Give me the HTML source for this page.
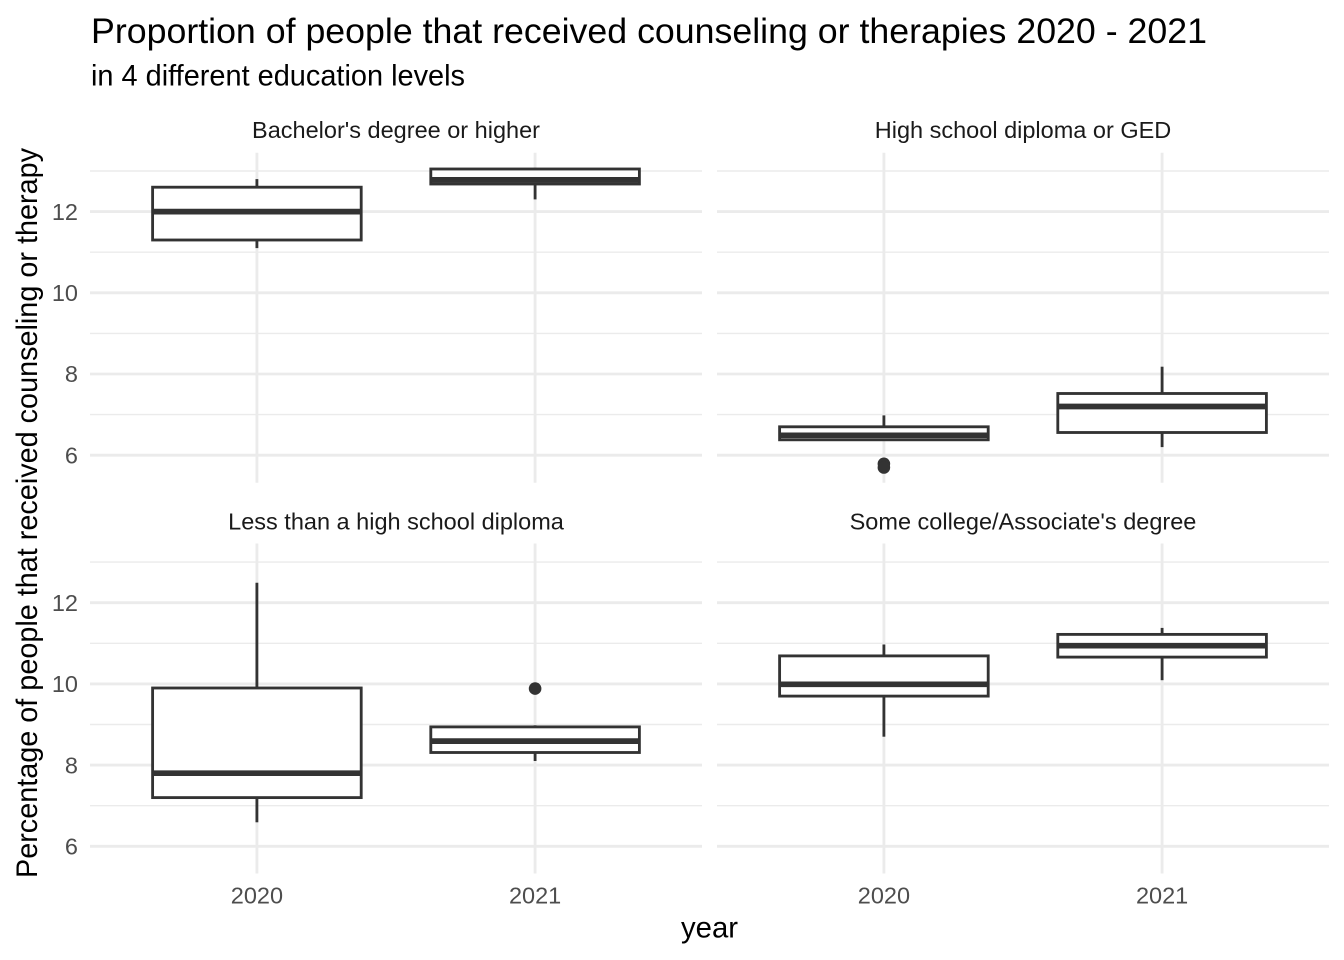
<!DOCTYPE html>
<html>
<head>
<meta charset="utf-8">
<style>
  html, body { margin: 0; padding: 0; background: #ffffff; }
  svg { display: block; }
  text { font-family: "Liberation Sans", Arial, sans-serif; }
</style>
</head>
<body>
<svg width="1344" height="960" viewBox="0 0 1344 960" xmlns="http://www.w3.org/2000/svg">
  <rect x="0" y="0" width="1344" height="960" fill="#ffffff"/>

  <!-- Titles -->
  <text x="91" y="43" font-size="35.6" fill="#000000" textLength="1116" lengthAdjust="spacingAndGlyphs">Proportion of people that received counseling or therapies 2020 - 2021</text>
  <text x="91" y="85.5" font-size="29.3" fill="#000000" textLength="374" lengthAdjust="spacingAndGlyphs">in 4 different education levels</text>

  <!-- Strip labels -->
  <text x="396" y="138.2" font-size="23.5" fill="#1A1A1A" text-anchor="middle">Bachelor's degree or higher</text>
  <text x="1023" y="138.2" font-size="23.5" fill="#1A1A1A" text-anchor="middle">High school diploma or GED</text>
  <text x="396" y="529.3" font-size="23.5" fill="#1A1A1A" text-anchor="middle">Less than a high school diploma</text>
  <text x="1023" y="529.3" font-size="23.5" fill="#1A1A1A" text-anchor="middle">Some college/Associate's degree</text>

  <!-- Grid lines -->
  <g stroke="#EBEBEB" fill="none">
    <g stroke-width="1.42">
      <line x1="90" x2="702" y1="414.6" y2="414.6"/>
      <line x1="90" x2="702" y1="333.4" y2="333.4"/>
      <line x1="90" x2="702" y1="252.2" y2="252.2"/>
      <line x1="90" x2="702" y1="171.0" y2="171.0"/>
      <line x1="717" x2="1329" y1="414.6" y2="414.6"/>
      <line x1="717" x2="1329" y1="333.4" y2="333.4"/>
      <line x1="717" x2="1329" y1="252.2" y2="252.2"/>
      <line x1="717" x2="1329" y1="171.0" y2="171.0"/>
      <line x1="90" x2="702" y1="805.7" y2="805.7"/>
      <line x1="90" x2="702" y1="724.5" y2="724.5"/>
      <line x1="90" x2="702" y1="643.3" y2="643.3"/>
      <line x1="90" x2="702" y1="562.1" y2="562.1"/>
      <line x1="717" x2="1329" y1="805.7" y2="805.7"/>
      <line x1="717" x2="1329" y1="724.5" y2="724.5"/>
      <line x1="717" x2="1329" y1="643.3" y2="643.3"/>
      <line x1="717" x2="1329" y1="562.1" y2="562.1"/>
    </g>
    <g stroke-width="2.84">
      <line x1="90" x2="702" y1="455.2" y2="455.2"/>
      <line x1="90" x2="702" y1="374.0" y2="374.0"/>
      <line x1="90" x2="702" y1="292.8" y2="292.8"/>
      <line x1="90" x2="702" y1="211.6" y2="211.6"/>
      <line x1="717" x2="1329" y1="455.2" y2="455.2"/>
      <line x1="717" x2="1329" y1="374.0" y2="374.0"/>
      <line x1="717" x2="1329" y1="292.8" y2="292.8"/>
      <line x1="717" x2="1329" y1="211.6" y2="211.6"/>
      <line x1="90" x2="702" y1="846.3" y2="846.3"/>
      <line x1="90" x2="702" y1="765.1" y2="765.1"/>
      <line x1="90" x2="702" y1="683.9" y2="683.9"/>
      <line x1="90" x2="702" y1="602.7" y2="602.7"/>
      <line x1="717" x2="1329" y1="846.3" y2="846.3"/>
      <line x1="717" x2="1329" y1="765.1" y2="765.1"/>
      <line x1="717" x2="1329" y1="683.9" y2="683.9"/>
      <line x1="717" x2="1329" y1="602.7" y2="602.7"/>
      <line x1="256.9" x2="256.9" y1="152.7" y2="482.7"/>
      <line x1="535.1" x2="535.1" y1="152.7" y2="482.7"/>
      <line x1="883.9" x2="883.9" y1="152.7" y2="482.7"/>
      <line x1="1162.1" x2="1162.1" y1="152.7" y2="482.7"/>
      <line x1="256.9" x2="256.9" y1="543.5" y2="873.5"/>
      <line x1="535.1" x2="535.1" y1="543.5" y2="873.5"/>
      <line x1="883.9" x2="883.9" y1="543.5" y2="873.5"/>
      <line x1="1162.1" x2="1162.1" y1="543.5" y2="873.5"/>
    </g>
  </g>

  <!-- Boxplots -->
  <g stroke="#333333" stroke-width="2.84" fill="#ffffff">
    <!-- TL 2020 -->
    <line x1="256.9" x2="256.9" y1="187.2" y2="179.1"/>
    <line x1="256.9" x2="256.9" y1="240.0" y2="248.1"/>
    <rect x="152.6" y="187.2" width="208.6" height="52.8"/>
    <line x1="152.6" x2="361.2" y1="211.6" y2="211.6" stroke-width="5.69"/>
    <!-- TL 2021 -->
    <line x1="535.1" x2="535.1" y1="169.0" y2="167.8"/>
    <line x1="535.1" x2="535.1" y1="184.0" y2="199.4"/>
    <rect x="430.8" y="169.0" width="208.6" height="15.0"/>
    <line x1="430.8" x2="639.4" y1="179.9" y2="179.9" stroke-width="5.69"/>

    <!-- TR 2020 -->
    <line x1="883.9" x2="883.9" y1="426.8" y2="415.4"/>
    <rect x="779.6" y="426.8" width="208.6" height="13.0"/>
    <line x1="779.6" x2="988.2" y1="435.3" y2="435.3" stroke-width="5.69"/>
    <circle cx="883.9" cy="463.8" r="6.3" fill="#333333" stroke="none"/>
    <circle cx="883.9" cy="467.5" r="6.3" fill="#333333" stroke="none"/>
    <!-- TR 2021 -->
    <line x1="1162.1" x2="1162.1" y1="393.5" y2="366.7"/>
    <line x1="1162.1" x2="1162.1" y1="432.5" y2="447.1"/>
    <rect x="1057.8" y="393.5" width="208.6" height="39.0"/>
    <line x1="1057.8" x2="1266.4" y1="406.5" y2="406.5" stroke-width="5.69"/>

    <!-- BL 2020 -->
    <line x1="256.9" x2="256.9" y1="688.0" y2="582.8"/>
    <line x1="256.9" x2="256.9" y1="797.6" y2="822.3"/>
    <rect x="152.6" y="688.0" width="208.6" height="109.6"/>
    <line x1="152.6" x2="361.2" y1="773.2" y2="773.2" stroke-width="5.69"/>
    <!-- BL 2021 -->
    <line x1="535.1" x2="535.1" y1="726.9" y2="725.3"/>
    <line x1="535.1" x2="535.1" y1="752.5" y2="761.0"/>
    <rect x="430.8" y="726.9" width="208.6" height="25.6"/>
    <line x1="430.8" x2="639.4" y1="741.1" y2="741.1" stroke-width="5.69"/>
    <circle cx="535.1" cy="688.6" r="6.3" fill="#333333" stroke="none"/>

    <!-- BR 2020 -->
    <line x1="883.9" x2="883.9" y1="655.9" y2="644.5"/>
    <line x1="883.9" x2="883.9" y1="696.1" y2="736.7"/>
    <rect x="779.6" y="655.9" width="208.6" height="40.2"/>
    <line x1="779.6" x2="988.2" y1="684.3" y2="684.3" stroke-width="5.69"/>
    <!-- BR 2021 -->
    <line x1="1162.1" x2="1162.1" y1="634.4" y2="627.9"/>
    <line x1="1162.1" x2="1162.1" y1="657.1" y2="680.2"/>
    <rect x="1057.8" y="634.4" width="208.6" height="22.7"/>
    <line x1="1057.8" x2="1266.4" y1="645.7" y2="645.7" stroke-width="5.69"/>
  </g>

  <!-- Y tick labels -->
  <g font-size="23.5" fill="#4D4D4D" text-anchor="end">
    <text x="78" y="219.8">12</text>
    <text x="78" y="301.0">10</text>
    <text x="78" y="382.2">8</text>
    <text x="78" y="463.4">6</text>
    <text x="78" y="610.9">12</text>
    <text x="78" y="692.1">10</text>
    <text x="78" y="773.3">8</text>
    <text x="78" y="854.5">6</text>
  </g>

  <!-- X tick labels -->
  <g font-size="23.5" fill="#4D4D4D" text-anchor="middle">
    <text x="256.9" y="903.5">2020</text>
    <text x="535.1" y="903.5">2021</text>
    <text x="883.9" y="903.5">2020</text>
    <text x="1162.1" y="903.5">2021</text>
  </g>

  <!-- Axis titles -->
  <text x="709.5" y="937.5" font-size="29.3" fill="#000000" text-anchor="middle">year</text>
  <text x="37" y="513" font-size="29.3" fill="#000000" text-anchor="middle" textLength="730" lengthAdjust="spacingAndGlyphs" transform="rotate(-90 37 513)">Percentage of people that received counseling or therapy</text>
</svg>
</body>
</html>
